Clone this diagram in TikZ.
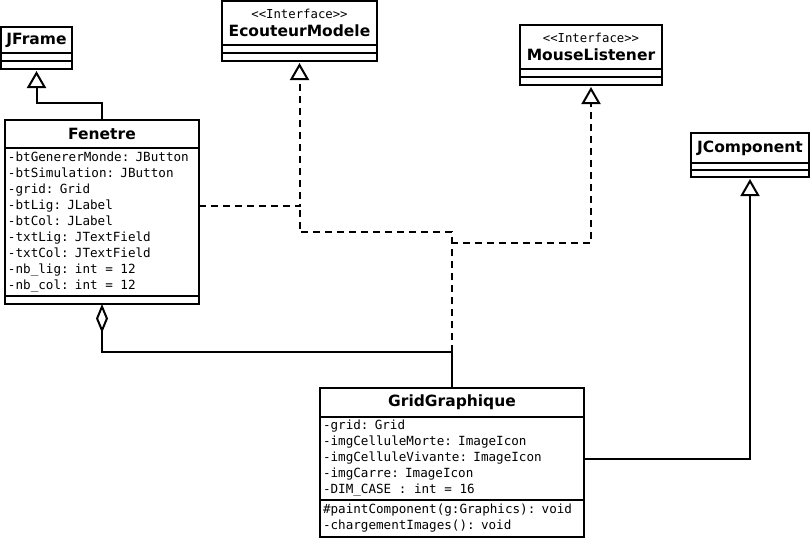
\documentclass[tikz,border=0pt]{standalone}
\usepackage{fontspec}
\setsansfont{DejaVu Sans}
\setmonofont{DejaVu Sans Mono}
\usetikzlibrary{arrows.meta}
\newcommand\umlstereo[1]{{\ttfamily\mdseries\fontsize{12.3}{18}\selectfont #1}}

\begin{document}
\begin{tikzpicture}[x=1pt,y=-1pt,line width=2pt,every node/.style={outer sep=0pt},
  head/.style={draw,anchor=north west,inner sep=0pt,align=center,
    font=\sffamily\fontsize{15.5}{18}\selectfont\bfseries},
  members/.style={draw,anchor=north west,inner xsep=3pt,inner ysep=0pt,align=left,
    font=\ttfamily\fontsize{12.6}{16}\selectfont,
    execute at begin node={\spaceskip=0.602em\relax}},
  slot/.style={draw,anchor=north west,inner sep=0pt,minimum height=8pt},
  inherit/.style={-{Triangle[open,length=17pt,width=19pt]},shorten >=2pt},
  realize/.style={inherit,dash pattern=on 7pt off 5pt},
  dashline/.style={dash pattern=on 7pt off 5pt},
  aggreg/.style={-{Diamond[open,length=29pt,width=12pt]}}]
  \useasboundingbox (0,0) rectangle (812,538);

  % classes
  \node[head,minimum width=71pt,minimum height=26pt] (jfr) at (1,27) {JFrame};
  \node[slot,minimum width=71pt] (jfrA) at (jfr.south west) {};
  \node[slot,minimum width=71pt] (jfrO) at (jfrA.south west) {};

  \node[head,minimum width=155pt,minimum height=44pt] (eco) at (222,1)
    {\umlstereo{<<Interface>>}\\EcouteurModele};
  \node[slot,minimum width=155pt] (ecoA) at (eco.south west) {};
  \node[slot,minimum width=155pt] (ecoO) at (ecoA.south west) {};

  \node[head,minimum width=142pt,minimum height=44pt] (mou) at (520,25)
    {\umlstereo{<<Interface>>}\\MouseListener};
  \node[slot,minimum width=142pt] (mouA) at (mou.south west) {};
  \node[slot,minimum width=142pt] (mouO) at (mouA.south west) {};

  \node[head,minimum width=118pt,minimum height=30pt] (jco) at (691,133) {JComponent};
  \node[slot,minimum width=118pt,minimum height=7pt] (jcoA) at (jco.south west) {};
  \node[slot,minimum width=118pt,minimum height=7pt] (jcoO) at (jcoA.south west) {};

  \node[head,minimum width=194pt,minimum height=28pt] (fen) at (5,120) {Fenetre};
  \node[members,text width=188pt,minimum height=148pt] (fenA) at (fen.south west)
    {-btGenererMonde: JButton\\-btSimulation: JButton\\-grid: Grid\\
     -btLig: JLabel\\-btCol: JLabel\\-txtLig: JTextField\\-txtCol: JTextField\\
     -nb\_lig: int = 12\\-nb\_col: int = 12};
  \node[slot,minimum width=194pt] (fenO) at (fenA.south west) {};

  \node[head,minimum width=264pt,minimum height=29pt] (grid) at (320,388) {GridGraphique};
  \node[members,text width=258pt,minimum height=83pt] (gridA) at (grid.south west)
    {-grid: Grid\\-imgCelluleMorte: ImageIcon\\-imgCelluleVivante: ImageIcon\\
     -imgCarre: ImageIcon\\-DIM\_CASE : int = 16};
  \node[members,text width=258pt,minimum height=37pt] (gridO) at (gridA.south west)
    {\#paintComponent(g:Graphics): void\\-chargementImages(): void};

  % relations
  \coordinate (aggJoin) at (452,352);
  \coordinate (ecoJoin) at (299.5,206);
  \draw[inherit] (fen.north) -- ++(0,-17) -| (jfrO.south);
  \draw[realize] ([yshift=16pt]fenA.east) -| (ecoO.south);
  \draw[dashline] (aggJoin) -- ++(0,-120) -| (ecoJoin);
  \draw[realize] (aggJoin) -- ++(0,-109) -| (mouO.south);
  \draw[aggreg] (grid.north) -- (aggJoin) -| (fenO.south);
  \draw[inherit] (gridA.east) -| (jcoO.south);
\end{tikzpicture}
\end{document}
